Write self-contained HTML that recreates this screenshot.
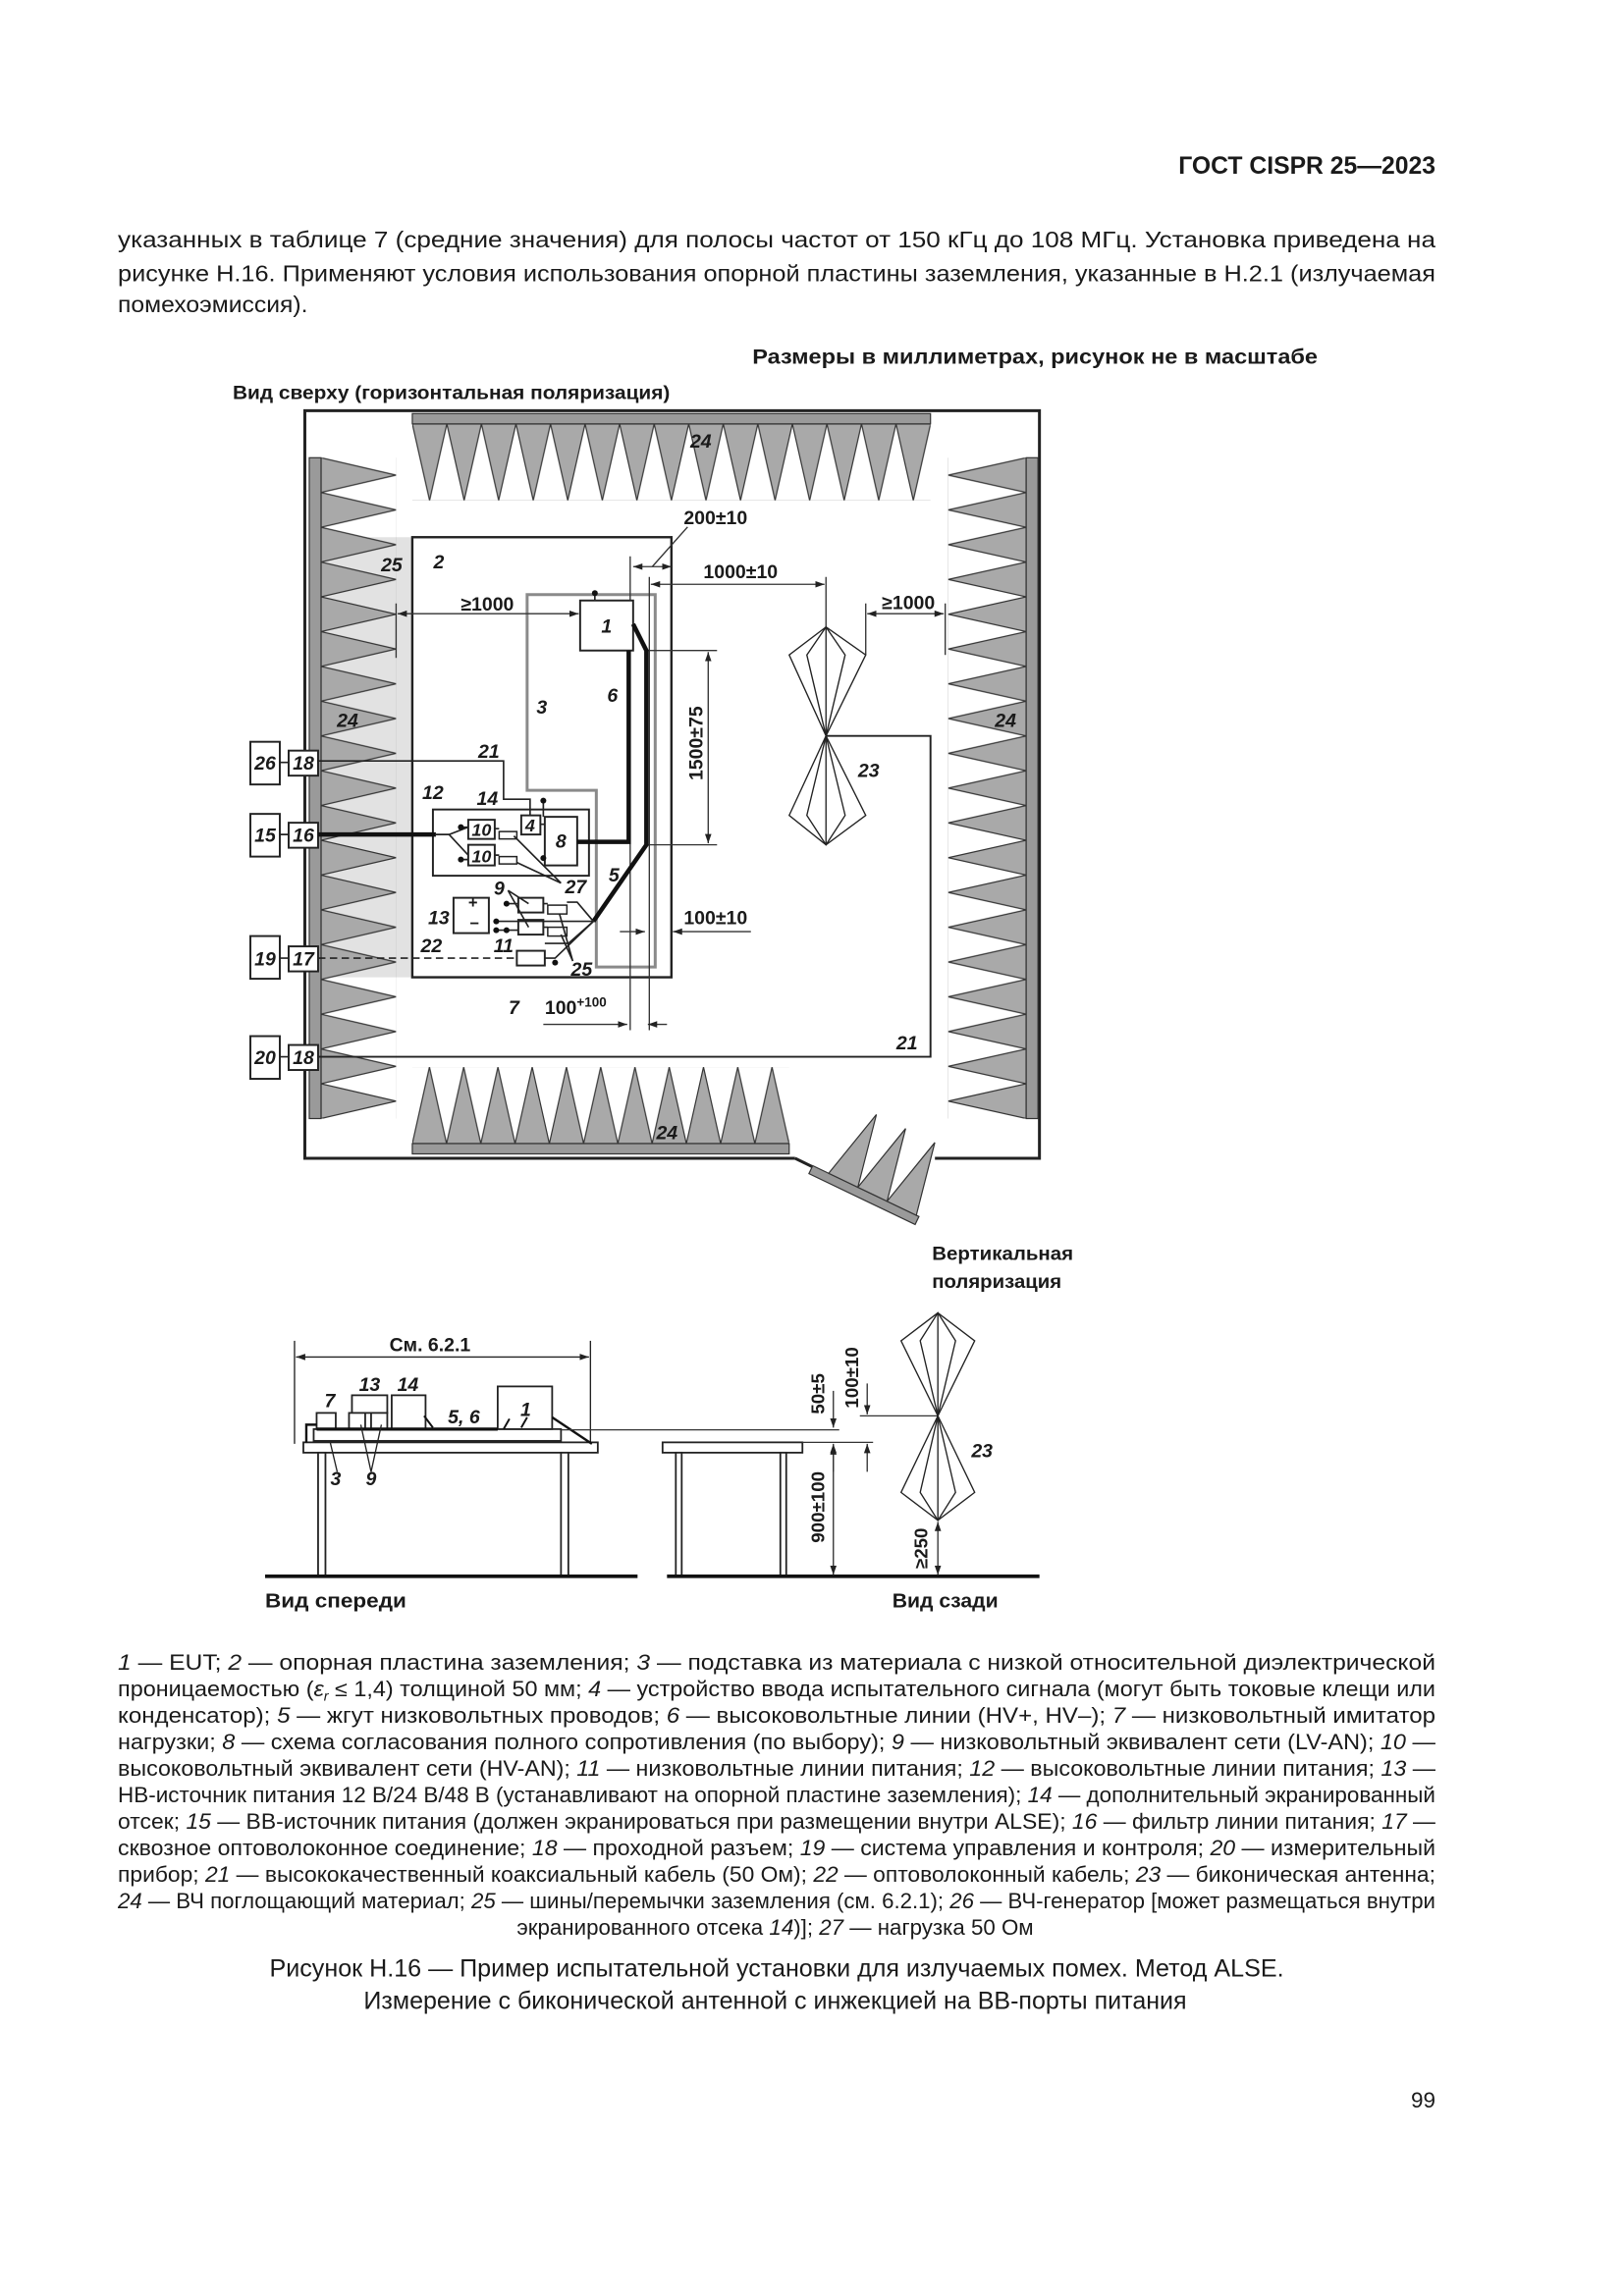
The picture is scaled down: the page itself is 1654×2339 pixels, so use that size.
<!DOCTYPE html>
<html><head><meta charset="utf-8"><style>
html,body{margin:0;padding:0;background:#fff;}
svg{display:block;}
text{font-family:"Liberation Sans",sans-serif;fill:#1a1a1a;}
.n{font-weight:bold;font-style:italic;font-size:13px;}
.lg{font-size:14.5px;}
</style></head><body>
<svg width="1654" height="2339" viewBox="0 0 1103 1560" xmlns="http://www.w3.org/2000/svg">
<defs>
<marker id="a" viewBox="0 0 10 10" refX="10" refY="5" markerWidth="7" markerHeight="7" orient="auto-start-reverse"><path d="M0,1.5 L10,5 L0,8.5 z" fill="#222"/></marker>
<pattern id="pt" patternUnits="userSpaceOnUse" x="280" y="288" width="23.47" height="52"><polygon points="0,0 23.47,0 11.73,52" fill="#a9a9a9" stroke="#333" stroke-width="0.8"/></pattern>
<pattern id="pb" patternUnits="userSpaceOnUse" x="280" y="725" width="23.27" height="52"><polygon points="0,52 11.63,0 23.27,52" fill="#a9a9a9" stroke="#333" stroke-width="0.8"/></pattern>
<pattern id="pl" patternUnits="userSpaceOnUse" x="218" y="311" width="51" height="23.63"><polygon points="0,0 51,11.8 0,23.63" fill="#a9a9a9" stroke="#333" stroke-width="0.8"/></pattern>
<pattern id="pr" patternUnits="userSpaceOnUse" x="644" y="311" width="53" height="23.63"><polygon points="53,0 0,11.8 53,23.63" fill="#a9a9a9" stroke="#333" stroke-width="0.8"/></pattern>
</defs>

<!-- header -->
<text x="975" y="118" text-anchor="end" font-weight="bold" font-size="16.5">ГОСТ CISPR 25—2023</text>
<text x="80" y="168" font-size="15.5" textLength="895" lengthAdjust="spacingAndGlyphs">указанных в таблице 7 (средние значения) для полосы частот от 150 кГц до 108 МГц. Установка приведена на</text>
<text x="80" y="191" font-size="15.5" textLength="895" lengthAdjust="spacingAndGlyphs">рисунке Н.16. Применяют условия использования опорной пластины заземления, указанные в Н.2.1 (излучаемая</text>
<text x="80" y="212" font-size="15.5" textLength="129" lengthAdjust="spacingAndGlyphs">помехоэмиссия).</text>
<text x="511" y="247" font-weight="bold" font-size="14" textLength="384" lengthAdjust="spacingAndGlyphs">Размеры в миллиметрах, рисунок не в масштабе</text>
<text x="158" y="271" font-weight="bold" font-size="13" textLength="297" lengthAdjust="spacingAndGlyphs">Вид сверху (горизонтальная поляризация)</text>

<!-- TOP VIEW -->
<g stroke="#222" fill="none">
<path d="M540,787 L207,787 L207,279 L706,279 L706,787 L635,787" stroke-width="2"/>
<path d="M540,787 L620,826" stroke-width="2"/>
</g>
<rect x="218" y="365" width="62" height="299" fill="#e2e2e2"/>
<rect x="280" y="288" width="352" height="52" fill="url(#pt)"/>
<rect x="280" y="281" width="352" height="7" fill="#9a9a9a" stroke="#333" stroke-width="0.8"/>
<rect x="280" y="725" width="256" height="52" fill="url(#pb)"/>
<rect x="280" y="777" width="256" height="7" fill="#9a9a9a" stroke="#333" stroke-width="0.8"/>
<rect x="218" y="311" width="51" height="449" fill="url(#pl)"/>
<rect x="210" y="311" width="8" height="449" fill="#9a9a9a" stroke="#333" stroke-width="0.8"/>
<rect x="644" y="311" width="53" height="449" fill="url(#pr)"/>
<rect x="697" y="311" width="8" height="449" fill="#9a9a9a" stroke="#333" stroke-width="0.8"/>
<g transform="translate(552,792) rotate(25.6)">
<rect x="0" y="0" width="80" height="6" fill="#9a9a9a" stroke="#333" stroke-width="0.8"/>
<polygon points="12,0 24,-50 34,0" fill="#a9a9a9" stroke="#333" stroke-width="0.8"/>
<polygon points="34,0 46,-50 56,0" fill="#a9a9a9" stroke="#333" stroke-width="0.8"/>
<polygon points="56,0 68,-50 78,0" fill="#a9a9a9" stroke="#333" stroke-width="0.8"/>
</g>

<!-- ground plane -->
<rect x="280" y="365" width="176" height="299" fill="#fff" stroke="#222" stroke-width="1.6"/>
<polygon points="358,404 445,404 445,657 405,657 405,537 358,537" fill="none" stroke="#8a8a8a" stroke-width="2"/>

<g stroke="#333" stroke-width="0.9" fill="none">
<line x1="428" y1="378" x2="428" y2="700"/>
<line x1="441" y1="392" x2="441" y2="700"/>
<line x1="430" y1="385" x2="456" y2="385" marker-start="url(#a)" marker-end="url(#a)"/>
<line x1="443" y1="385" x2="467" y2="358"/>
<line x1="442" y1="397" x2="560" y2="397" marker-start="url(#a)" marker-end="url(#a)"/>
<line x1="561" y1="392" x2="561" y2="426"/>
<line x1="270" y1="417" x2="393" y2="417" marker-start="url(#a)" marker-end="url(#a)"/>
<line x1="269" y1="410" x2="269" y2="447"/>
<line x1="589" y1="417" x2="641" y2="417" marker-start="url(#a)" marker-end="url(#a)"/>
<line x1="588" y1="410" x2="588" y2="445"/>
<line x1="642" y1="410" x2="642" y2="445"/>
<line x1="481" y1="443" x2="481" y2="573" marker-start="url(#a)" marker-end="url(#a)"/>
<line x1="439" y1="442" x2="487" y2="442"/>
<line x1="439" y1="574" x2="487" y2="574"/>
<line x1="421" y1="633" x2="438" y2="633" marker-end="url(#a)"/>
<line x1="510" y1="633" x2="457" y2="633" marker-end="url(#a)"/>
<line x1="369" y1="696" x2="426" y2="696" marker-end="url(#a)"/>
<line x1="453" y1="696" x2="440" y2="696" marker-end="url(#a)"/>
</g>

<!-- antenna horizontal -->
<g stroke="#222" stroke-width="0.9" fill="none">
<polygon points="561,426 536,445 561,500 588,445"/>
<polygon points="561,426 548,445 561,500 574,445"/>
<line x1="561" y1="426" x2="561" y2="574"/>
<polygon points="561,500 536,554 561,574 588,554"/>
<polygon points="561,500 548,554 561,574 574,554"/>
<path d="M561,500 H632 V718 H215" stroke-width="1.3"/>
</g>

<!-- EUT and wiring -->
<g stroke="#222" fill="#fff" stroke-width="1.3">
<rect x="394" y="408" width="36" height="34"/>
<rect x="294" y="550" width="106" height="45" fill="none"/>
<rect x="370" y="555" width="22" height="33"/>
<rect x="354" y="554" width="13" height="13"/>
<rect x="318" y="557" width="18" height="13"/>
<rect x="318" y="574" width="18" height="14"/>
<rect x="339" y="565" width="12" height="5" stroke-width="1"/>
<rect x="339" y="582" width="12" height="5" stroke-width="1"/>
<rect x="308" y="610" width="24" height="24"/>
<rect x="352" y="610" width="17" height="10"/>
<rect x="352" y="625" width="17" height="10"/>
<rect x="372" y="615" width="13" height="6" stroke-width="1"/>
<rect x="372" y="630" width="13" height="6" stroke-width="1"/>
<rect x="351" y="646" width="19" height="10"/>
<rect x="170" y="504" width="20" height="29"/>
<rect x="196" y="510" width="20" height="17"/>
<rect x="170" y="553" width="20" height="29"/>
<rect x="196" y="559" width="20" height="17"/>
<rect x="170" y="636" width="20" height="29"/>
<rect x="196" y="643" width="20" height="17"/>
<rect x="170" y="704" width="20" height="29"/>
<rect x="196" y="710" width="20" height="17"/>
</g>
<g stroke="#111" fill="none" stroke-width="3">
<path d="M427,442 V572 H392"/>
<path d="M430,424 L439,442 V574 L403,626"/>
<path d="M216,567 H296"/>
</g>
<g stroke="#222" fill="none" stroke-width="1.1">
<path d="M190,518 H196 M190,567 H196 M190,651 H196 M190,718 H196"/>
<path d="M216,517 H342 V543 H360 V554"/>
<path d="M296,567 H305 L318,562 M305,567 L318,581"/>
<path d="M369,544 V555 M404,403 V408 M367,560 H370 M369,583 H370 M313,562 H318 M313,584 H318"/>
<path d="M336,563 H339 M336,581 H339"/>
<path d="M344,614 H352 M337,626 H403 M337,632 H352 M369,614 H372 M369,630 H372"/>
<path d="M385,613 H392 L403,626 L386,641 H370"/>
<path d="M370,651 H377 L403,626"/>
<path d="M345,605 L359,614 M345,605 L359,630"/>
<path d="M381,600 L349,568 M381,600 L351,586"/>
<path d="M389,653 L380,621 M389,653 L381,635"/>
<path d="M216,651 H351" stroke-dasharray="5,3"/>
</g>
<g fill="#111">
<circle cx="404" cy="403" r="2"/><circle cx="369" cy="544" r="2"/><circle cx="313" cy="562" r="2"/><circle cx="313" cy="584" r="2"/><circle cx="369" cy="583" r="2"/>
<circle cx="344" cy="614" r="2"/><circle cx="337" cy="626" r="2"/><circle cx="337" cy="632" r="2"/><circle cx="344" cy="632" r="2"/><circle cx="377" cy="654" r="2"/>
</g>
<text x="318" y="617" font-size="11" font-weight="bold">+</text>
<text x="319" y="631" font-size="11" font-weight="bold">−</text>

<g class="n">
<text x="476" y="304" text-anchor="middle">24</text>
<text x="236" y="494" text-anchor="middle">24</text>
<text x="683" y="494" text-anchor="middle">24</text>
<text x="453" y="774" text-anchor="middle">24</text>
<text x="266" y="388" text-anchor="middle">25</text>
<text x="298" y="386" text-anchor="middle">2</text>
<text x="412" y="430" text-anchor="middle">1</text>
<text x="368" y="485" text-anchor="middle">3</text>
<text x="416" y="477" text-anchor="middle">6</text>
<text x="332" y="515" text-anchor="middle">21</text>
<text x="294" y="543" text-anchor="middle">12</text>
<text x="331" y="547" text-anchor="middle">14</text>
<text x="327" y="568" text-anchor="middle" font-size="12">10</text>
<text x="327" y="586" text-anchor="middle" font-size="12">10</text>
<text x="360" y="565" text-anchor="middle" font-size="12">4</text>
<text x="381" y="576" text-anchor="middle">8</text>
<text x="417" y="599" text-anchor="middle">5</text>
<text x="391" y="607" text-anchor="middle">27</text>
<text x="339" y="608" text-anchor="middle">9</text>
<text x="298" y="628" text-anchor="middle">13</text>
<text x="342" y="647" text-anchor="middle">11</text>
<text x="293" y="647" text-anchor="middle">22</text>
<text x="395" y="663" text-anchor="middle">25</text>
<text x="349" y="689" text-anchor="middle">7</text>
<text x="590" y="528" text-anchor="middle">23</text>
<text x="616" y="713" text-anchor="middle">21</text>
<text x="180" y="523" text-anchor="middle">26</text>
<text x="206" y="523" text-anchor="middle">18</text>
<text x="180" y="572" text-anchor="middle">15</text>
<text x="206" y="572" text-anchor="middle">16</text>
<text x="180" y="656" text-anchor="middle">19</text>
<text x="206" y="656" text-anchor="middle">17</text>
<text x="180" y="723" text-anchor="middle">20</text>
<text x="206" y="723" text-anchor="middle">18</text>
</g>
<g font-size="13" font-weight="bold">
<text x="486" y="356" text-anchor="middle">200±10</text>
<text x="503" y="393" text-anchor="middle">1000±10</text>
<text x="331" y="415" text-anchor="middle">≥1000</text>
<text x="617" y="414" text-anchor="middle">≥1000</text>
<text x="486" y="628" text-anchor="middle">100±10</text>
<text x="370" y="689">100<tspan font-size="9" dy="-5">+100</tspan></text>
<text transform="translate(477,505) rotate(-90)" text-anchor="middle">1500±75</text>
</g>

<!-- LOWER VIEWS -->
<text x="633" y="856" font-weight="bold" font-size="13" textLength="96" lengthAdjust="spacingAndGlyphs">Вертикальная</text>
<text x="633" y="875" font-weight="bold" font-size="13" textLength="88" lengthAdjust="spacingAndGlyphs">поляризация</text>
<text x="292" y="918" text-anchor="middle" font-size="13" font-weight="bold">См. 6.2.1</text>
<g stroke="#222" stroke-width="0.9" fill="none">
<line x1="200" y1="911" x2="200" y2="981"/>
<line x1="401" y1="911" x2="401" y2="981"/>
<line x1="201" y1="922" x2="400" y2="922" marker-start="url(#a)" marker-end="url(#a)"/>
</g>
<g stroke="#222" stroke-width="1.2" fill="#fff">
<rect x="213" y="971" width="168" height="8"/>
<rect x="215" y="960" width="13" height="11"/>
<rect x="239" y="948" width="24" height="12"/>
<rect x="237" y="960" width="11" height="11"/>
<rect x="252" y="960" width="11" height="11"/>
<rect x="266" y="948" width="23" height="23"/>
<rect x="338" y="942" width="37" height="29"/>
<rect x="206" y="980" width="200" height="7"/>
<rect x="216" y="987" width="5" height="84"/>
<rect x="381" y="987" width="5" height="84"/>
<rect x="450" y="980" width="95" height="7"/>
<rect x="459" y="987" width="4" height="84"/>
<rect x="530" y="987" width="4" height="84"/>
</g>
<g stroke="#111" fill="none">
<path d="M215,971 H338" stroke-width="2.2"/>
<path d="M208,980 V968 H215" stroke-width="1.6"/>
<path d="M375,963 L402,981" stroke-width="1.6"/>
<path d="M288,962 L294,970 M342,971 L346,964 M354,970 L358,963" stroke-width="1.3"/>
<path d="M180,1071 H433 M453,1071 H706" stroke-width="2.4"/>
</g>
<g stroke="#333" stroke-width="0.9" fill="none">
<line x1="381" y1="971.5" x2="570" y2="971.5"/>
<line x1="545" y1="980" x2="593" y2="980"/>
<line x1="584" y1="962" x2="637" y2="962"/>
<line x1="566" y1="945" x2="566" y2="970" marker-end="url(#a)"/>
<line x1="566" y1="1000" x2="566" y2="981" marker-end="url(#a)"/>
<line x1="566" y1="982" x2="566" y2="1070" marker-start="url(#a)" marker-end="url(#a)"/>
<line x1="589" y1="940" x2="589" y2="961" marker-end="url(#a)"/>
<line x1="589" y1="1000" x2="589" y2="981" marker-end="url(#a)"/>
<line x1="637" y1="1034" x2="637" y2="1070" marker-start="url(#a)" marker-end="url(#a)"/>
</g>
<g stroke="#222" stroke-width="0.9" fill="none">
<polygon points="637,892 612,911 637,962 662,911"/>
<polygon points="637,892 625,911 637,962 649,911"/>
<polygon points="637,962 612,1014 637,1033 662,1014"/>
<polygon points="637,962 625,1014 637,1033 649,1014"/>
<line x1="637" y1="892" x2="637" y2="1033"/>
</g>
<g class="n">
<text x="224" y="956" text-anchor="middle">7</text>
<text x="251" y="945" text-anchor="middle">13</text>
<text x="277" y="945" text-anchor="middle">14</text>
<text x="315" y="967" text-anchor="middle">5, 6</text>
<text x="357" y="962" text-anchor="middle">1</text>
<text x="228" y="1009" text-anchor="middle">3</text>
<text x="252" y="1009" text-anchor="middle">9</text>
<text x="667" y="990" text-anchor="middle">23</text>
</g>
<g stroke="#222" stroke-width="0.9"><path d="M229,1000 L224,979 M252,1000 L245,968 M252,1000 L259,968" fill="none"/></g>
<g font-size="12.5" font-weight="bold">
<text transform="translate(560,947) rotate(-90)" text-anchor="middle">50±5</text>
<text transform="translate(583,936) rotate(-90)" text-anchor="middle">100±10</text>
<text transform="translate(560,1024) rotate(-90)" text-anchor="middle">900±100</text>
<text transform="translate(630,1052) rotate(-90)" text-anchor="middle">≥250</text>
</g>
<text x="180" y="1092" font-weight="bold" font-size="13.5" textLength="96" lengthAdjust="spacingAndGlyphs">Вид спереди</text>
<text x="606" y="1092" font-weight="bold" font-size="13.5" textLength="72" lengthAdjust="spacingAndGlyphs">Вид сзади</text>

<!-- legend -->
<g class="lg">
<text x="80" y="1134.5" textLength="895" lengthAdjust="spacingAndGlyphs"><tspan font-style="italic">1</tspan> — EUT; <tspan font-style="italic">2</tspan> — опорная пластина заземления; <tspan font-style="italic">3</tspan> — подставка из материала с низкой относительной диэлектрической</text>
<text x="80" y="1152.5" textLength="895" lengthAdjust="spacingAndGlyphs">проницаемостью (<tspan font-style="italic">ε<tspan font-size="9" dy="3">r</tspan></tspan><tspan dy="-3"> ≤ 1,4) толщиной 50 мм; </tspan><tspan font-style="italic">4</tspan> — устройство ввода испытательного сигнала (могут быть токовые клещи или</text>
<text x="80" y="1170.5" textLength="895" lengthAdjust="spacingAndGlyphs">конденсатор); <tspan font-style="italic">5</tspan> — жгут низковольтных проводов; <tspan font-style="italic">6</tspan> — высоковольтные линии (HV+, HV–); <tspan font-style="italic">7</tspan> — низковольтный имитатор</text>
<text x="80" y="1188.5" textLength="895" lengthAdjust="spacingAndGlyphs">нагрузки; <tspan font-style="italic">8</tspan> — схема согласования полного сопротивления (по выбору); <tspan font-style="italic">9</tspan> — низковольтный эквивалент сети (LV-AN); <tspan font-style="italic">10</tspan> —</text>
<text x="80" y="1206.5" textLength="895" lengthAdjust="spacingAndGlyphs">высоковольтный эквивалент сети (HV-AN); <tspan font-style="italic">11</tspan> — низковольтные линии питания; <tspan font-style="italic">12</tspan> — высоковольтные линии питания; <tspan font-style="italic">13</tspan> —</text>
<text x="80" y="1224.5" textLength="895" lengthAdjust="spacingAndGlyphs">НВ-источник питания 12 В/24 В/48 В (устанавливают на опорной пластине заземления); <tspan font-style="italic">14</tspan> — дополнительный экранированный</text>
<text x="80" y="1242.5" textLength="895" lengthAdjust="spacingAndGlyphs">отсек; <tspan font-style="italic">15</tspan> — ВВ-источник питания (должен экранироваться при размещении внутри ALSE); <tspan font-style="italic">16</tspan> — фильтр линии питания; <tspan font-style="italic">17</tspan> —</text>
<text x="80" y="1260.5" textLength="895" lengthAdjust="spacingAndGlyphs">сквозное оптоволоконное соединение; <tspan font-style="italic">18</tspan> — проходной разъем; <tspan font-style="italic">19</tspan> — система управления и контроля; <tspan font-style="italic">20</tspan> — измерительный</text>
<text x="80" y="1278.5" textLength="895" lengthAdjust="spacingAndGlyphs">прибор; <tspan font-style="italic">21</tspan> — высококачественный коаксиальный кабель (50 Ом); <tspan font-style="italic">22</tspan> — оптоволоконный кабель; <tspan font-style="italic">23</tspan> — биконическая антенна;</text>
<text x="80" y="1296.5" textLength="895" lengthAdjust="spacingAndGlyphs"><tspan font-style="italic">24</tspan> — ВЧ поглощающий материал; <tspan font-style="italic">25</tspan> — шины/перемычки заземления (см. 6.2.1); <tspan font-style="italic">26</tspan> — ВЧ-генератор [может размещаться внутри</text>
<text x="351" y="1314.5" textLength="351" lengthAdjust="spacingAndGlyphs">экранированного отсека <tspan font-style="italic">14</tspan>)]; <tspan font-style="italic">27</tspan> — нагрузка 50 Ом</text>
</g>
<text x="183" y="1343" font-size="16.5" textLength="689" lengthAdjust="spacingAndGlyphs">Рисунок Н.16 — Пример испытательной установки для излучаемых помех. Метод ALSE.</text>
<text x="247" y="1365" font-size="16.5" textLength="559" lengthAdjust="spacingAndGlyphs">Измерение с биконической антенной с инжекцией на ВВ-порты питания</text>
<text x="975" y="1432" text-anchor="end" font-size="15">99</text>
</svg>
</body></html>
